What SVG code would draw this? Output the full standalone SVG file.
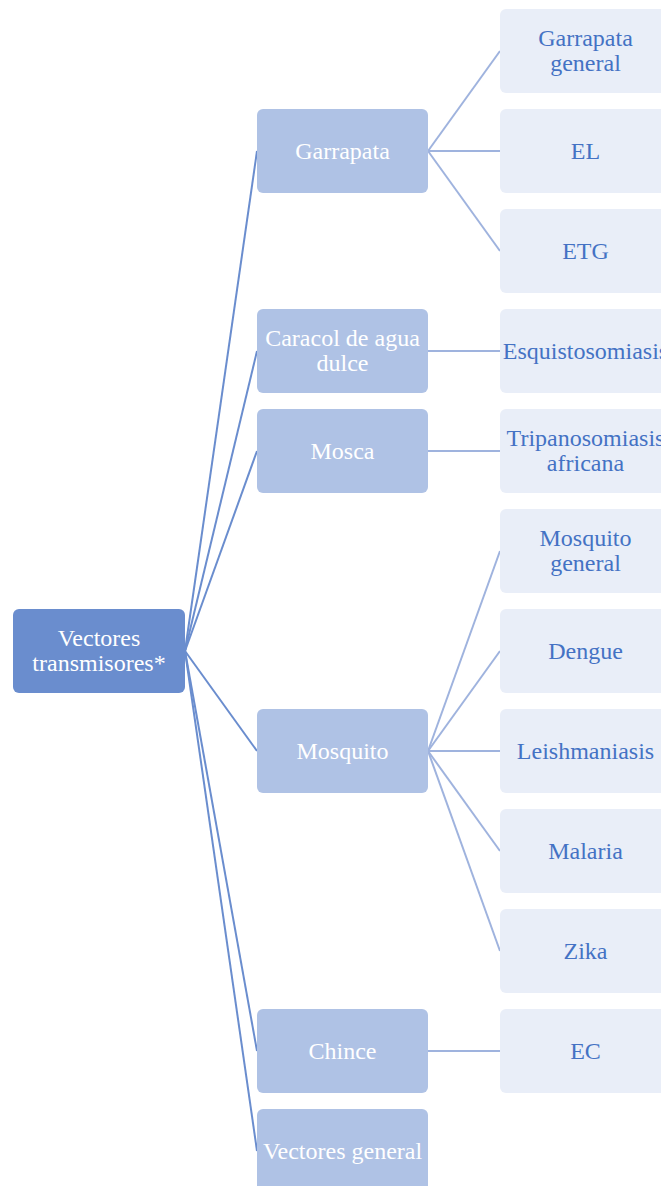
<svg xmlns="http://www.w3.org/2000/svg" width="661" height="1186" viewBox="0 0 661 1186">
<style>
.root rect{fill:#6a8dce;}
.l1 rect{fill:#afc2e5;}
.leaf rect{fill:#e9eef8;}
text{font-family:"Liberation Serif","Times New Roman",serif;font-size:24px;text-anchor:middle;dominant-baseline:central;}
.root text,.l1 text{fill:#ffffff;}
.leaf text{fill:#4472c4;}
.c1 line{stroke:#6a8dce;stroke-width:2;}
.c2 line{stroke:#9fb3de;stroke-width:2;}
</style>
<rect width="661" height="1186" fill="#ffffff"/>
<g id="connectors">
<g class="c1">
<line x1="185" y1="651" x2="257" y2="151"/>
<line x1="185" y1="651" x2="257" y2="351"/>
<line x1="185" y1="651" x2="257" y2="451"/>
<line x1="185" y1="651" x2="257" y2="751"/>
<line x1="185" y1="651" x2="257" y2="1051"/>
<line x1="185" y1="651" x2="257" y2="1151"/>
</g>
<g class="c2">
<line x1="428" y1="151" x2="500" y2="51"/>
<line x1="428" y1="151" x2="500" y2="151"/>
<line x1="428" y1="151" x2="500" y2="251"/>
<line x1="428" y1="351" x2="500" y2="351"/>
<line x1="428" y1="451" x2="500" y2="451"/>
<line x1="428" y1="751" x2="500" y2="551"/>
<line x1="428" y1="751" x2="500" y2="651"/>
<line x1="428" y1="751" x2="500" y2="751"/>
<line x1="428" y1="751" x2="500" y2="851"/>
<line x1="428" y1="751" x2="500" y2="951"/>
<line x1="428" y1="1051" x2="500" y2="1051"/>
</g>
</g>
<g id="n-root" class="root"><rect x="13" y="609" width="172" height="84" rx="6"/><text x="99" y="638">Vectores</text><text x="99" y="663">transmisores*</text></g>
<g id="n-garrapata" class="l1"><rect x="257" y="109" width="171" height="84" rx="6"/><text x="342.5" y="151">Garrapata</text></g>
<g id="n-caracol" class="l1"><rect x="257" y="309" width="171" height="84" rx="6"/><text x="342.5" y="338">Caracol de agua</text><text x="342.5" y="363">dulce</text></g>
<g id="n-mosca" class="l1"><rect x="257" y="409" width="171" height="84" rx="6"/><text x="342.5" y="451">Mosca</text></g>
<g id="n-mosquito" class="l1"><rect x="257" y="709" width="171" height="84" rx="6"/><text x="342.5" y="751">Mosquito</text></g>
<g id="n-chince" class="l1"><rect x="257" y="1009" width="171" height="84" rx="6"/><text x="342.5" y="1051">Chince</text></g>
<g id="n-vectores-general" class="l1"><rect x="257" y="1109" width="171" height="84" rx="6"/><text x="342.5" y="1151">Vectores general</text></g>
<g id="n-garrapata-general" class="leaf"><rect x="500" y="9" width="171" height="84" rx="6"/><text x="585.5" y="38">Garrapata</text><text x="585.5" y="63">general</text></g>
<g id="n-el" class="leaf"><rect x="500" y="109" width="171" height="84" rx="6"/><text x="585.5" y="151">EL</text></g>
<g id="n-etg" class="leaf"><rect x="500" y="209" width="171" height="84" rx="6"/><text x="585.5" y="251">ETG</text></g>
<g id="n-esquisto" class="leaf"><rect x="500" y="309" width="171" height="84" rx="6"/><text x="585.5" y="351">Esquistosomiasis</text></g>
<g id="n-tripano" class="leaf"><rect x="500" y="409" width="171" height="84" rx="6"/><text x="585.5" y="438">Tripanosomiasis</text><text x="585.5" y="463">africana</text></g>
<g id="n-mosquito-general" class="leaf"><rect x="500" y="509" width="171" height="84" rx="6"/><text x="585.5" y="538">Mosquito</text><text x="585.5" y="563">general</text></g>
<g id="n-dengue" class="leaf"><rect x="500" y="609" width="171" height="84" rx="6"/><text x="585.5" y="651">Dengue</text></g>
<g id="n-leish" class="leaf"><rect x="500" y="709" width="171" height="84" rx="6"/><text x="585.5" y="751">Leishmaniasis</text></g>
<g id="n-malaria" class="leaf"><rect x="500" y="809" width="171" height="84" rx="6"/><text x="585.5" y="851">Malaria</text></g>
<g id="n-zika" class="leaf"><rect x="500" y="909" width="171" height="84" rx="6"/><text x="585.5" y="951">Zika</text></g>
<g id="n-ec" class="leaf"><rect x="500" y="1009" width="171" height="84" rx="6"/><text x="585.5" y="1051">EC</text></g>
</svg>
